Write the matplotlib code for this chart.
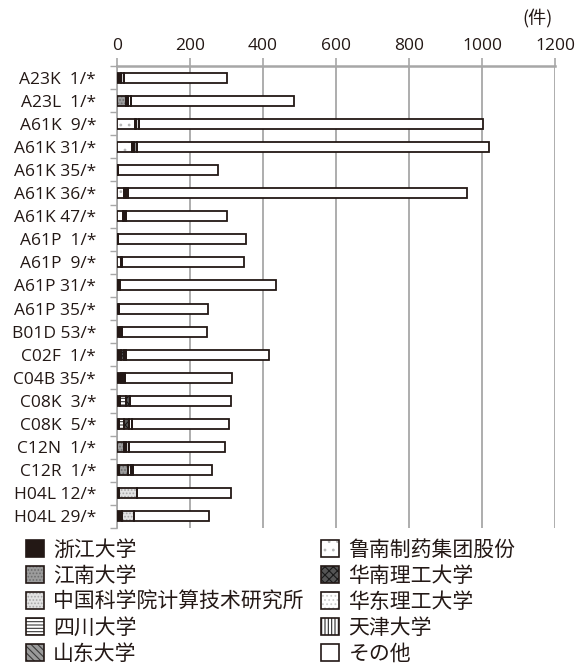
import matplotlib
matplotlib.use("Agg")
import matplotlib.pyplot as plt
import numpy as np
from matplotlib.patches import Patch
from matplotlib.legend_handler import HandlerTuple

plt.rcParams['font.family'] = ['Noto Sans CJK SC', 'DejaVu Sans']
plt.rcParams['hatch.linewidth'] = 0.8

categories = ["A23K  1/*", "A23L  1/*", "A61K  9/*", "A61K 31/*", "A61K 35/*",
              "A61K 36/*", "A61K 47/*", "A61P  1/*", "A61P  9/*", "A61P 31/*",
              "A61P 35/*", "B01D 53/*", "C02F  1/*", "C04B 35/*", "C08K  3/*",
              "C08K  5/*", "C12N  1/*", "C12R  1/*", "H04L 12/*", "H04L 29/*"]

totals = [301, 484, 1004, 1020, 276, 960, 302, 354, 347, 436,
          250, 247, 417, 316, 311, 308, 297, 261, 312, 251]

zhejiang   = [12, 0, 0, 0, 2, 0, 0, 0, 0, 0, 5, 9, 10, 11, 8, 6, 0, 5, 6, 14]
jiangnan   = [0, 24, 0, 0, 0, 0, 0, 0, 0, 0, 0, 0, 0, 0, 0, 0, 20, 24, 0, 0]
ict_cas    = [0, 0, 0, 0, 0, 0, 0, 0, 0, 0, 0, 0, 0, 0, 0, 0, 0, 0, 48, 32]
sichuan    = [0, 0, 0, 0, 0, 0, 0, 0, 0, 0, 0, 0, 0, 0, 18, 14, 0, 0, 0, 0]
shandong   = [0, 0, 0, 0, 0, 0, 0, 0, 0, 0, 0, 0, 0, 6, 0, 0, 0, 0, 0, 0]
lunan      = [0, 0, 48, 40, 0, 20, 16, 0, 12, 3, 0, 0, 0, 0, 0, 0, 0, 0, 0, 0]
scut       = [0, 6, 5, 6, 0, 4, 3, 3, 0, 5, 0, 0, 8, 0, 10, 12, 6, 0, 0, 0]
ecust      = [0, 0, 0, 0, 0, 0, 0, 0, 0, 0, 0, 0, 0, 0, 0, 0, 0, 10, 0, 0]
tianjin    = [6, 8, 8, 10, 0, 7, 5, 0, 3, 0, 0, 6, 8, 5, 0, 10, 8, 6, 0, 0]

series_names = ["浙江大学", "江南大学", "中国科学院计算技术研究所", "四川大学", "山东大学",
                "鲁南制药集团股份", "华南理工大学", "华东理工大学", "天津大学", "その他"]

named = [zhejiang, jiangnan, ict_cas, sichuan, shandong, lunan, scut, ecust, tianjin]
others = [t - sum(v[i] for v in named) for i, t in enumerate(totals)]
series = named + [others]

INK = '#231815'
GRID = '#a7a7a7'
LATIN = ['Open Sans', 'DejaVu Sans']
# (face colour, hatch colour, hatch pattern)
styles = [
    (INK, INK, None),
    ('#9c9c9c', '#6e6e6e', '.....'),
    ('#e2e2e2', '#a8a8a8', '.....'),
    ('white', '#3a3a3a', '-----'),
    ('#9a9a9a', '#3a3a3a', '\\\\\\\\\\'),
    ('white', '#b8b8b8', '..'),
    ('#555555', '#1a1a1a', 'xxxx'),
    ('white', '#cccccc', '....'),
    ('white', '#2a2a2a', '|||||'),
    ('white', 'white', None),
]

fig = plt.figure(figsize=(5.87, 6.66), dpi=100)
ax = fig.add_axes([117 / 587, 138 / 666, 438 / 587, 462 / 666])

y = np.arange(len(categories))
bar_h = 0.43
left = np.zeros(len(categories))
handles = []
for vals, (fc, hc, hatch), name in zip(series, styles, series_names):
    vals = np.array(vals, dtype=float)
    mask = vals > 0
    ax.barh(y[mask], vals[mask], left=left[mask], height=bar_h, color=fc,
            edgecolor=hc, linewidth=0, hatch=hatch, zorder=3)
    ax.barh(y[mask], vals[mask], left=left[mask], height=bar_h, fill=False,
            edgecolor=INK, linewidth=1.3, zorder=4)
    left += vals
    handles.append((Patch(facecolor=fc, edgecolor=hc, hatch=hatch, linewidth=0),
                    Patch(fill=False, edgecolor=INK, linewidth=1.2)))

ax.set_xlim(0, 1200)
ax.set_ylim(len(categories) - 0.5, -0.5)
ax.xaxis.tick_top()
ax.set_xticks(np.arange(0, 1201, 200))
ax.tick_params(axis='x', colors=GRID, labelcolor=INK, length=6, width=1.2, pad=3)
for lab in ax.get_xticklabels():
    lab.set_fontfamily(LATIN)
    lab.set_fontsize(12.5)
ax.set_yticks(y)
ax.set_yticklabels(categories, family=LATIN, fontsize=12.5)
ax.set_yticks(np.arange(-0.5, len(categories), 1), minor=True)
ax.tick_params(axis='y', which='major', length=0, labelcolor=INK, pad=15)
ax.tick_params(axis='y', which='minor', length=5, width=1.0, color=GRID)

for s in ['right', 'bottom']:
    ax.spines[s].set_visible(False)
ax.spines['top'].set_color(GRID)
ax.spines['top'].set_linewidth(1.8)
ax.spines['left'].set_color(GRID)
ax.spines['left'].set_linewidth(1.2)
ax.grid(axis='x', color=GRID, linewidth=1.3, zorder=0)
ax.set_axisbelow(True)

fig.text(537 / 587, 1 - 19 / 666, "(件)", ha='center', va='center',
         fontsize=13, color=INK)

leg = fig.legend(handles, series_names,
                 handler_map={tuple: HandlerTuple(ndivide=1, pad=0)},
                 loc='upper left', bbox_to_anchor=(26 / 587, 1 - 539 / 666),
                 ncol=2, frameon=False, fontsize=15, handlelength=0.85,
                 handleheight=0.85, handletextpad=0.45, columnspacing=0.85,
                 labelspacing=0.19, borderaxespad=0, borderpad=0)
for t in leg.get_texts():
    t.set_color(INK)

fig.savefig("out.png", dpi=100)
